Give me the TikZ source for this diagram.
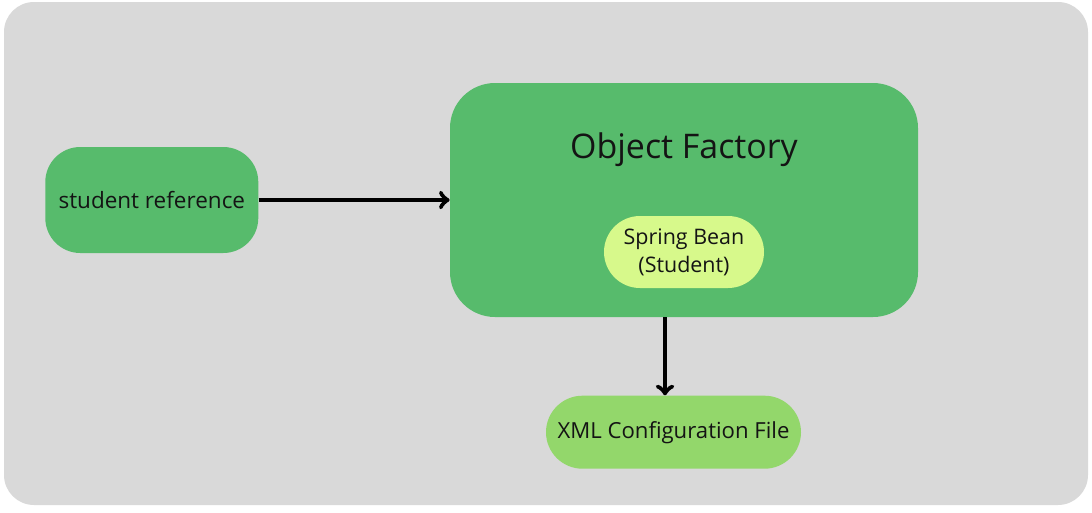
\documentclass[tikz,border=0pt]{standalone}
\usepackage{fontspec}
\setmainfont{Open Sans}
\usetikzlibrary{shapes.geometric, arrows, positioning}
\definecolor{bggray}{HTML}{D9D9D9}
\definecolor{factorygreen}{HTML}{57BB6C}
\definecolor{beanyellow}{HTML}{D7F98B}
\definecolor{xmlgreen}{HTML}{93D76B}
\definecolor{inkdark}{HTML}{141414}
\tikzstyle{refbox} = [
    rectangle, rounded corners=0.7cm, minimum width=4.26cm, minimum height=2.12cm,
    text centered, align=center, fill=factorygreen, text=inkdark, font=\fontsize{12.8}{15}\selectfont
]
\tikzstyle{factorybox} = [
    rectangle, rounded corners=0.9cm, minimum width=9.36cm, minimum height=4.68cm,
    fill=factorygreen
]
\tikzstyle{beanbox} = [
    rectangle, rounded corners=0.72cm, minimum width=3.2cm, minimum height=1.44cm,
    text centered, align=center, fill=beanyellow, text=inkdark, font=\fontsize{12.2}{16}\selectfont
]
\tikzstyle{xmlbox} = [
    rectangle, rounded corners=0.73cm, minimum width=5.1cm, minimum height=1.46cm,
    text centered, align=center, fill=xmlgreen, text=inkdark, font=\fontsize{12.6}{15}\selectfont
]
\tikzstyle{arrow} = [line width=2.6pt,->,>=to]

\begin{document}
\begin{tikzpicture}[
    node distance=1.56cm and 3.82cm
]

% Fondo
\useasboundingbox (0,0) rectangle (21.84,-10.24);
\fill [bggray, rounded corners=0.6cm] (0.08,-0.04) rectangle (21.76,-10.1);

% Cajas
\node (factory) [factorybox] at (13.68,-4.0)            {};
\node (title)   [text=inkdark, font=\fontsize{19.3}{22}\selectfont]
                at ([yshift=1.0cm]factory.center)       {Object Factory};
\node (bean)    [beanbox] at ([yshift=-1.04cm]factory.center) {Spring Bean \\ (Student)};
\node (student) [refbox, left=of factory]               {student reference};
\node (xml)     [xmlbox, below=of factory, xshift=-0.21cm] {XML Configuration File};

% Flechas
\draw [arrow] (student) -- (factory);
\draw [arrow] ([xshift=-0.17cm]xml.north |- factory.south) -- ([xshift=-0.17cm]xml.north);

\end{tikzpicture}
\end{document}
